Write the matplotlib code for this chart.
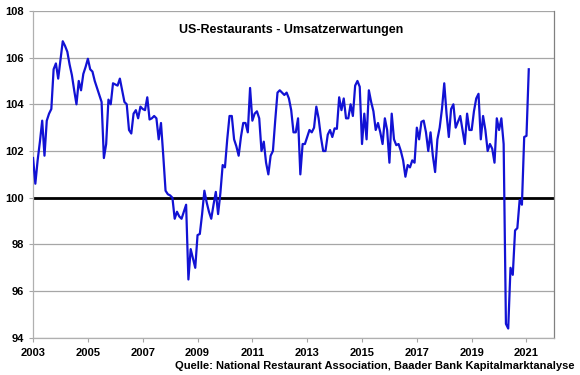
import matplotlib
matplotlib.use("Agg")
import matplotlib.pyplot as plt
import numpy as np

plt.rcParams['font.family'] = ['Liberation Sans', 'DejaVu Sans']

# monthly values, Jan 2003 .. Feb 2021
y2003 = [101.7, 100.6, 101.6, 102.4, 103.3, 101.8, 103.3, 103.6, 103.8, 105.5, 105.75, 105.1]
y2004 = [105.9, 106.7, 106.5, 106.25, 105.7, 105.25, 104.6, 104.0, 105.0, 104.6, 105.3, 105.6]
y2005 = [105.95, 105.5, 105.4, 105.0, 104.7, 104.4, 104.1, 101.7, 102.3, 104.2, 104.0, 104.9]
y2006 = [104.85, 104.8, 105.1, 104.6, 104.1, 104.0, 102.9, 102.75, 103.6, 103.75, 103.4, 103.9]
y2007 = [103.8, 103.75, 104.3, 103.35, 103.4, 103.5, 103.4, 102.5, 103.2, 101.8, 100.3, 100.15]
y2008 = [100.1, 100.0, 99.1, 99.4, 99.2, 99.1, 99.4, 99.7, 96.5, 97.8, 97.4, 97.0]
y2009 = [98.4, 98.45, 99.3, 100.3, 99.8, 99.4, 99.1, 99.7, 100.25, 99.3, 100.2, 101.4]
y2010 = [101.3, 102.5, 103.5, 103.5, 102.5, 102.2, 101.8, 102.6, 103.2, 103.2, 102.8, 104.7]
y2011 = [103.3, 103.6, 103.7, 103.4, 102.0, 102.4, 101.5, 101.0, 101.8, 102.0, 103.3, 104.5]
y2012 = [104.6, 104.5, 104.4, 104.5, 104.25, 103.75, 102.8, 102.8, 103.4, 101.0, 102.3, 102.3]
y2013 = [102.6, 102.9, 102.8, 103.0, 103.9, 103.4, 102.6, 102.0, 102.0, 102.7, 102.9, 102.6]
y2014 = [102.97, 102.95, 104.3, 103.75, 104.25, 103.4, 103.4, 104.0, 103.5, 104.8, 105.0, 104.75]
y2015 = [102.3, 103.6, 102.5, 104.6, 104.1, 103.7, 102.9, 103.2, 102.8, 102.3, 103.4, 102.9]
y2016 = [101.5, 103.6, 102.5, 102.25, 102.3, 102.0, 101.6, 100.9, 101.4, 101.3, 101.6, 101.5]
y2017 = [103.0, 102.5, 103.25, 103.3, 102.8, 102.0, 102.8, 101.8, 101.1, 102.5, 103.0, 103.8]
y2018 = [104.9, 103.6, 102.6, 103.8, 104.0, 103.0, 103.25, 103.5, 102.9, 102.3, 103.6, 102.9]
y2019 = [102.9, 103.7, 104.25, 104.45, 102.5, 103.5, 102.9, 102.0, 102.3, 102.1, 101.5, 103.4]
y2020 = [102.9, 103.4, 102.3, 94.6, 94.4, 97.0, 96.7, 98.6, 98.7, 99.9, 99.7, 102.6]
y2021 = [102.65, 105.5]

values = (y2003 + y2004 + y2005 + y2006 + y2007 + y2008 + y2009 + y2010 + y2011
          + y2012 + y2013 + y2014 + y2015 + y2016 + y2017 + y2018 + y2019 + y2020 + y2021)
dates = 2003 + np.arange(len(values)) / 12.0

year_ticks = list(range(2003, 2022, 2))
value_ticks = list(range(94, 109, 2))

fig = plt.figure(figsize=(5.8, 3.75), dpi=100)
ax = fig.add_axes([0.057, 0.099, 0.898, 0.872])

for v in value_ticks:
    ax.axhline(v, color="#a6a6a6", lw=0.9, zorder=1)
ax.axhline(100, color="black", lw=2.0, zorder=2)
ax.plot(dates, values, color="#1212d4", lw=1.6, zorder=3)

ax.set_xlim(2003, 2022)
ax.set_ylim(94, 108)
ax.set_xticks(year_ticks)
ax.set_yticks(value_ticks)
ax.tick_params(axis='both', length=3, width=0.8, color="#a6a6a6", labelsize=8)
ax.tick_params(axis='x', pad=4)
ax.tick_params(axis='y', pad=3.5)
for lab in ax.get_xticklabels() + ax.get_yticklabels():
    lab.set_fontweight('bold')

ax.spines['top'].set_visible(False)
ax.spines['left'].set_color("#b0b0b0")
ax.spines['bottom'].set_color("#b0b0b0")
ax.spines['right'].set_color("#808080")
for s in ax.spines.values():
    s.set_linewidth(0.9)

ax.text(0.496, 0.94, "US-Restaurants - Umsatzerwartungen", transform=ax.transAxes,
        ha='center', va='center', fontsize=9, fontweight='bold')
fig.text(0.99, 0.024, "Quelle: National Restaurant Association, Baader Bank Kapitalmarktanalyse",
         ha='right', va='center', fontsize=8, fontweight='bold')

plt.savefig("out.png", dpi=100)
